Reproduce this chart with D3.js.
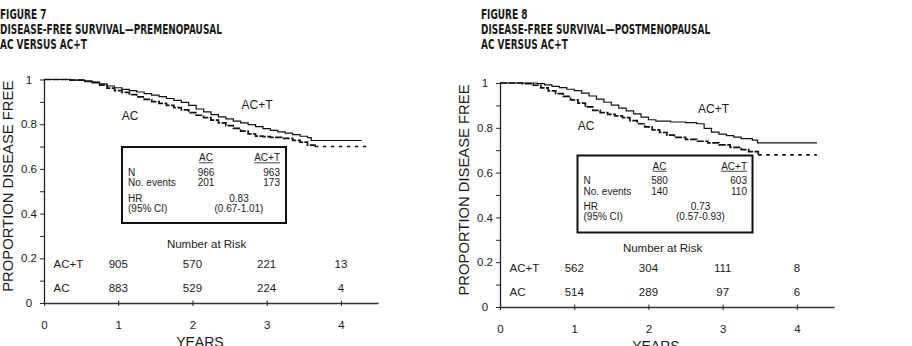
<!DOCTYPE html>
<html><head><meta charset="utf-8">
<script src="https://cdn.jsdelivr.net/npm/d3@7"></script>
<style>body{margin:0;background:#fff}</style>
</head><body>
<svg id="chart" width="912" height="346"></svg>
<script>
// ---------------- DATA ----------------
const yearTicks = [0, 1, 2, 3, 4];
const yTickValues = [0, 0.1, 0.2, 0.3, 0.4, 0.5, 0.6, 0.7, 0.8, 0.9, 1];
const yTickLabels = {0: "0", 0.2: "0.2", 0.4: "0.4", 0.6: "0.6", 0.8: "0.8", 1: "1"};
const riskYears = [1, 2, 3, 4];
const legendCols = ["AC", "AC+T"];
const legendRows = ["N", "No. events"];

const preTitle = ["FIGURE 7", "DISEASE-FREE SURVIVAL\u2014PREMENOPAUSAL", "AC VERSUS AC+T"];
const postTitle = ["FIGURE 8", "DISEASE-FREE SURVIVAL\u2014POSTMENOPAUSAL", "AC VERSUS AC+T"];

// Kaplan-Meier steps [years, proportion]
const preACT = [[0,1.0],[0.35,0.997],[0.55,0.993],[0.65,0.988],[0.75,0.98],[0.85,0.971],[0.95,0.963],[1.05,0.956],[1.15,0.950],[1.25,0.944],[1.35,0.937],[1.45,0.930],[1.55,0.923],[1.65,0.915],[1.75,0.907],[1.85,0.898],[1.95,0.884],[2.05,0.868],[2.15,0.855],[2.25,0.843],[2.35,0.833],[2.45,0.824],[2.55,0.814],[2.65,0.806],[2.75,0.798],[2.85,0.789],[2.95,0.780],[3.05,0.772],[3.15,0.766],[3.25,0.760],[3.35,0.753],[3.45,0.746],[3.55,0.740],[3.6,0.727],[4.28,0.727]];
const preAC = [[0,1.0],[0.35,0.997],[0.55,0.992],[0.65,0.986],[0.75,0.975],[0.85,0.961],[0.95,0.950],[1.05,0.942],[1.15,0.932],[1.25,0.922],[1.35,0.911],[1.45,0.901],[1.55,0.893],[1.65,0.884],[1.75,0.874],[1.85,0.864],[1.95,0.852],[2.05,0.840],[2.15,0.829],[2.25,0.818],[2.35,0.806],[2.45,0.794],[2.55,0.781],[2.65,0.769],[2.75,0.757],[2.85,0.747],[2.95,0.744],[3.05,0.741],[3.2,0.737],[3.35,0.728],[3.45,0.72],[3.55,0.706],[3.65,0.700],[4.39,0.700]];
const postACT = [[0,1.0],[0.5,0.997],[0.6,0.992],[0.7,0.985],[0.8,0.979],[0.9,0.972],[1.0,0.966],[1.1,0.955],[1.2,0.942],[1.3,0.928],[1.4,0.914],[1.5,0.901],[1.6,0.888],[1.7,0.876],[1.8,0.862],[1.9,0.848],[2.0,0.836],[2.1,0.830],[2.3,0.826],[2.5,0.823],[2.65,0.818],[2.75,0.797],[2.85,0.781],[2.95,0.772],[3.05,0.765],[3.15,0.758],[3.25,0.752],[3.4,0.745],[3.47,0.733],[4.27,0.733]];
const postAC = [[0,1.0],[0.3,0.997],[0.45,0.99],[0.55,0.978],[0.65,0.965],[0.75,0.953],[0.85,0.940],[0.95,0.925],[1.05,0.910],[1.15,0.893],[1.25,0.878],[1.35,0.868],[1.45,0.860],[1.55,0.853],[1.65,0.845],[1.75,0.832],[1.85,0.818],[1.95,0.804],[2.05,0.791],[2.15,0.779],[2.25,0.767],[2.35,0.757],[2.5,0.748],[2.65,0.740],[2.8,0.733],[2.95,0.724],[3.1,0.713],[3.25,0.703],[3.35,0.694],[3.48,0.679],[4.27,0.679]];

const preN = [966, 963], preEvents = [201, 173], preHR = "0.83", preCI = "(0.67-1.01)";
const postN = [580, 603], postEvents = [140, 110], postHR = "0.73", postCI = "(0.57-0.93)";

const preRiskACT = [905, 570, 221, 13], preRiskAC = [883, 529, 224, 4];
const postRiskACT = [562, 304, 111, 8], postRiskAC = [514, 289, 97, 6];

// ---------------- LAYOUT ----------------
const panels = [
  {title: preTitle, titleX: 0, x0: 44, x1: 378, y0: 303, y1: 79.5,
   act: preACT, ac: preAC, N: preN, ev: preEvents, hr: preHR, ci: preCI,
   riskACT: preRiskACT, riskAC: preRiskAC,
   box: {x: 122, y: 147, w: 164, h: 76, acX: 84, actR: 6, hrX: 117},
   acLab: [130, 120], actLab: [257, 109]},
  {title: postTitle, titleX: 481, x0: 500, x1: 834, y0: 307, y1: 83,
   act: postACT, ac: postAC, N: postN, ev: postEvents, hr: postHR, ci: postCI,
   riskACT: postRiskACT, riskAC: postRiskAC,
   box: {x: 577.5, y: 155.5, w: 175, h: 77, acX: 82, actR: 5.5, hrX: 123},
   acLab: [586, 130], actLab: [713.5, 113]}
];

const svg = d3.select("#chart");
const TXT = "#1a1a1a";
const SANS = "'Liberation Sans', Arial, Helvetica, sans-serif";
const COND = "'Liberation Sans Narrow', 'DejaVu Sans Condensed', 'Liberation Sans', sans-serif";
const titleBase = [19, 34, 49];
let titleScale = null;

panels.forEach((p, pi) => {
  const g = svg.append("g");
  // title
  const tg = g.append("g").attr("transform", `translate(${p.titleX},0)`);
  const inner = tg.append("g");
  p.title.forEach((l, i) => inner.append("text").attr("x", 0).attr("y", titleBase[i])
    .attr("font-family", COND).attr("font-weight", "bold").attr("font-size", 13.5)
    .attr("fill", TXT).text(l));
  if (titleScale === null) {
    const w = inner.selectAll("text").nodes()[1].getComputedTextLength();
    titleScale = 222 / w;
  }
  inner.attr("transform", `scale(${titleScale},1)`);

  const x = d3.scaleLinear().domain([0, 4.5]).range([p.x0, p.x1]);
  const y = d3.scaleLinear().domain([0, 1]).range([p.y0, p.y1]);

  // y axis
  const ya = g.append("g").attr("transform", `translate(${p.x0},0)`)
    .call(d3.axisLeft(y).tickValues(yTickValues).tickSize(4).tickSizeOuter(0)
      .tickFormat(d => { const k = Math.round(d * 10) / 10; return yTickLabels[k] !== undefined ? yTickLabels[k] : ""; }));
  ya.select(".domain").attr("stroke", "#222").attr("stroke-width", 1.3);
  ya.selectAll(".tick line").attr("stroke", "#222").attr("stroke-width", 1);
  ya.selectAll(".tick text").attr("x", -15).attr("text-anchor", "middle")
    .attr("font-family", SANS).attr("font-size", 11.5).attr("fill", TXT);

  // x axis
  const xa = g.append("g").attr("transform", `translate(0,${p.y0})`)
    .call(d3.axisBottom(x).tickValues(yearTicks).tickSize(3).tickSizeOuter(0).tickFormat(d3.format("d")));
  xa.select(".domain").attr("stroke", "#333").attr("stroke-width", 1.6);
  xa.selectAll(".tick line").attr("y1", -2.5).attr("y2", 3).attr("stroke", "#222");
  xa.selectAll(".tick text").attr("y", 25.5).attr("dy", null)
    .attr("font-family", SANS).attr("font-size", 11.5).attr("fill", TXT);

  // axis titles
  g.append("text").attr("transform", `translate(${p.x0 - 31},${(p.y0 + p.y1) / 2 - 5}) rotate(-90)`)
    .attr("text-anchor", "middle").attr("font-family", SANS).attr("font-size", 14.8)
    .attr("fill", TXT).text("PROPORTION DISEASE FREE");
  g.append("text").attr("x", x(2.1)).attr("y", p.y0 + 44).attr("text-anchor", "middle")
    .attr("font-family", SANS).attr("font-size", 14).attr("fill", TXT).text("YEARS");

  // curves
  const line = d3.line().x(d => x(d[0])).y(d => y(d[1])).curve(d3.curveStepAfter);
  g.append("path").datum(p.act).attr("d", line).attr("fill", "none")
    .attr("stroke", "#111").attr("stroke-width", 1.2);
  const acMain = p.ac.slice(0, p.ac.length - 1);
  const acTail = p.ac.slice(p.ac.length - 2);
  g.append("path").datum(acMain).attr("d", line).attr("fill", "none")
    .attr("stroke", "#111").attr("stroke-width", 1.7).attr("stroke-dasharray", "7,1.5");
  g.append("path").datum(acTail).attr("d", line).attr("fill", "none")
    .attr("stroke", "#111").attr("stroke-width", 1.6).attr("stroke-dasharray", "3.5,4.5");

  // curve labels
  g.append("text").attr("x", p.acLab[0]).attr("y", p.acLab[1]).attr("text-anchor", "middle")
    .attr("font-family", SANS).attr("font-size", 12).attr("fill", TXT).text("AC");
  g.append("text").attr("x", p.actLab[0]).attr("y", p.actLab[1]).attr("text-anchor", "middle")
    .attr("font-family", SANS).attr("font-size", 12).attr("fill", TXT).text("AC+T");

  // legend box
  const b = p.box;
  const bg = g.append("g").attr("transform", `translate(${b.x},${b.y})`);
  bg.append("rect").attr("width", b.w).attr("height", b.h).attr("fill", "#fff")
    .attr("stroke", "#111").attr("stroke-width", 2);
  const lt = (xx, yy, s, anchor) => bg.append("text").attr("x", xx).attr("y", yy)
    .attr("text-anchor", anchor).attr("font-family", SANS).attr("font-size", 10)
    .attr("fill", TXT).text(s);
  const acX = b.acX, actR = b.w - b.actR;
  const h1 = lt(acX, 14, legendCols[0], "middle");
  const h2 = lt(actR, 14, legendCols[1], "end");
  [h1, h2].forEach(h => {
    const bb = h.node().getBBox();
    bg.append("line").attr("x1", bb.x).attr("x2", bb.x + bb.width)
      .attr("y1", 15.8).attr("y2", 15.8).attr("stroke", TXT).attr("stroke-width", 0.8);
  });
  lt(6, 28.5, legendRows[0], "start");
  lt(acX, 28.5, p.N[0], "middle");
  lt(actR, 28.5, p.N[1], "end");
  lt(6, 39, legendRows[1], "start");
  lt(acX, 39, p.ev[0], "middle");
  lt(actR, 39, p.ev[1], "end");
  lt(6, 54.5, "HR", "start");
  lt(6, 64.5, "(95% CI)", "start");
  lt(b.hrX, 54.5, p.hr, "middle");
  lt(b.hrX, 64.5, p.ci, "middle");

  // number at risk
  g.append("text").attr("x", x(2.19)).attr("y", p.y0 - 55).attr("text-anchor", "middle")
    .attr("font-family", SANS).attr("font-size", 11.5).attr("fill", TXT).text("Number at Risk");
  const rows = [["AC+T", p.riskACT, p.y0 - 35.5], ["AC", p.riskAC, p.y0 - 11]];
  rows.forEach(([lab, vals, yy]) => {
    g.append("text").attr("x", p.x0 + 9.5).attr("y", yy).attr("font-family", SANS)
      .attr("font-size", 11.5).attr("fill", TXT).text(lab);
    g.selectAll(null).data(vals).enter().append("text")
      .attr("x", (d, i) => x(riskYears[i])).attr("y", yy).attr("text-anchor", "middle")
      .attr("font-family", SANS).attr("font-size", 11.5).attr("fill", TXT).text(d => d);
  });
});
</script>
</body></html>
